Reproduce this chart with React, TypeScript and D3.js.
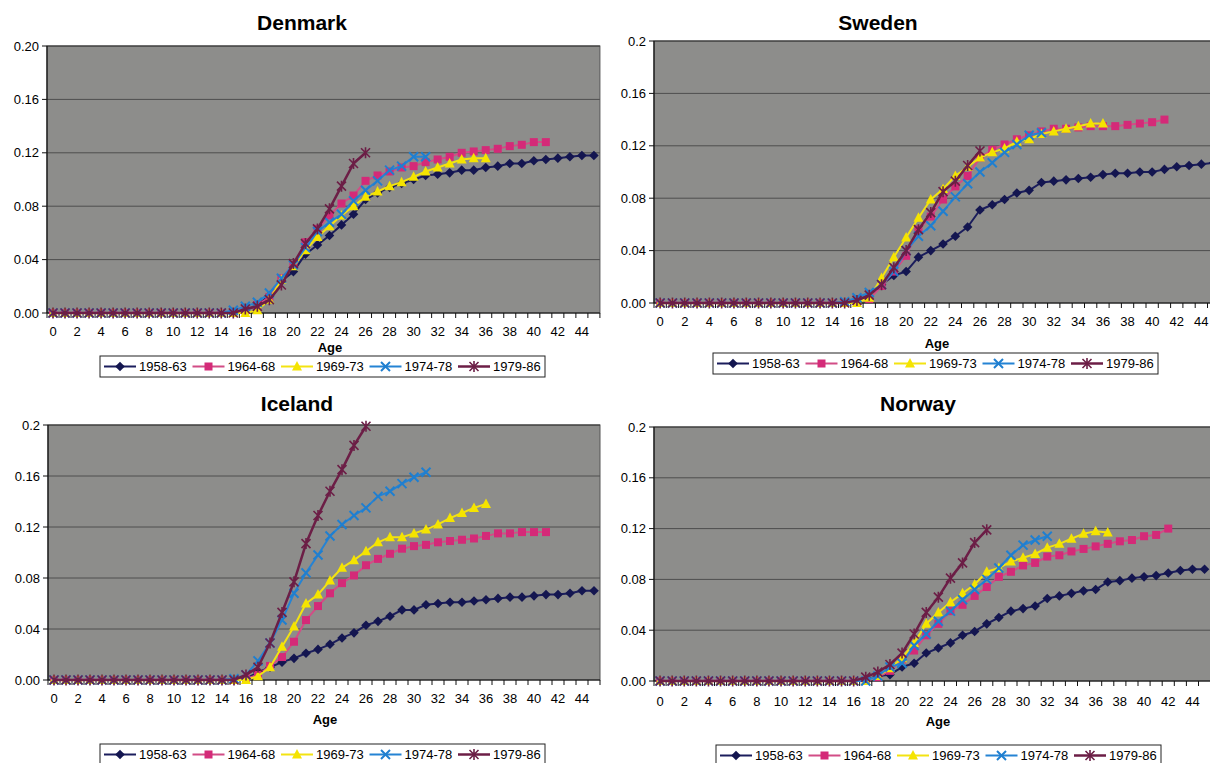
import React from "react";
import * as d3 from "d3";

// ages on the category axis
const ages = [0, 1, 2, 3, 4, 5, 6, 7, 8, 9, 10, 11, 12, 13, 14, 15, 16, 17, 18, 19, 20, 21, 22, 23,
  24, 25, 26, 27, 28, 29, 30, 31, 32, 33, 34, 35, 36, 37, 38, 39, 40, 41, 42, 43, 44, 45];
const xTickLabels = [0, 2, 4, 6, 8, 10, 12, 14, 16, 18, 20, 22, 24, 26, 28, 30, 32, 34, 36, 38, 40, 42, 44];
const yTicks = [0, 0.04, 0.08, 0.12, 0.16, 0.2];
const denmarkYLabels = ["0.00", "0.04", "0.08", "0.12", "0.16", "0.20"];
const otherYLabels = ["0.00", "0.04", "0.08", "0.12", "0.16", "0.2"];
const cohorts = ["1958-63", "1964-68", "1969-73", "1974-78", "1979-86"];

// Denmark
const denmark5863 = [0, 0, 0, 0, 0, 0, 0, 0, 0, 0, 0, 0, 0, 0, 0, 0,
  0.002, 0.006, 0.013, 0.024, 0.031, 0.044, 0.051, 0.058, 0.066, 0.074, 0.085, 0.090, 0.094, 0.097, 0.100,
  0.103, 0.104, 0.105, 0.107, 0.107, 0.109, 0.110, 0.112, 0.112, 0.114, 0.115, 0.116, 0.117, 0.118, 0.118];
const denmark6468 = [0, 0, 0, 0, 0, 0, 0, 0, 0, 0, 0, 0, 0, 0, 0, 0,
  0.002, 0.006, 0.012, 0.026, 0.036, 0.053, 0.063, 0.073, 0.082, 0.088, 0.099, 0.103, 0.106, 0.109, 0.110,
  0.113, 0.115, 0.117, 0.120, 0.121, 0.122, 0.123, 0.125, 0.126, 0.128, 0.128];
const denmark6973 = [0, 0, 0, 0, 0, 0, 0, 0, 0, 0, 0, 0, 0, 0, 0, 0,
  0.000, 0.002, 0.010, 0.025, 0.035, 0.047, 0.057, 0.065, 0.073, 0.080, 0.087, 0.091, 0.095, 0.098, 0.102,
  0.106, 0.109, 0.112, 0.115, 0.116, 0.116];
const denmark7478 = [0, 0, 0, 0, 0, 0, 0, 0, 0, 0, 0, 0, 0, 0, 0,
  0.002, 0.005, 0.008, 0.015, 0.026, 0.036, 0.049, 0.061, 0.068, 0.074, 0.084, 0.092, 0.099, 0.107, 0.110,
  0.117, 0.117];
const denmark7986 = [0, 0, 0, 0, 0, 0, 0, 0, 0, 0, 0, 0, 0, 0, 0, 0,
  0.003, 0.005, 0.010, 0.021, 0.037, 0.052, 0.063, 0.078, 0.095, 0.112, 0.120];

// Sweden
const sweden5863 = [0, 0, 0, 0, 0, 0, 0, 0, 0, 0, 0, 0, 0, 0, 0, 0,
  0.001, 0.005, 0.014, 0.021, 0.024, 0.035, 0.040, 0.045, 0.051, 0.058, 0.071, 0.075, 0.079, 0.084, 0.086,
  0.092, 0.093, 0.094, 0.095, 0.096, 0.098, 0.099, 0.099, 0.100, 0.100, 0.102, 0.104, 0.105, 0.106, 0.107];
const sweden6468 = [0, 0, 0, 0, 0, 0, 0, 0, 0, 0, 0, 0, 0, 0, 0, 0,
  0.001, 0.003, 0.013, 0.024, 0.036, 0.056, 0.066, 0.079, 0.089, 0.097, 0.111, 0.117, 0.121, 0.125, 0.128,
  0.131, 0.133, 0.133, 0.134, 0.135, 0.135, 0.135, 0.136, 0.137, 0.138, 0.140];
const sweden6973 = [0, 0, 0, 0, 0, 0, 0, 0, 0, 0, 0, 0, 0, 0, 0, 0,
  0.000, 0.004, 0.019, 0.035, 0.050, 0.065, 0.079, 0.087, 0.097, 0.104, 0.111, 0.115, 0.118, 0.123, 0.125,
  0.129, 0.131, 0.133, 0.135, 0.137, 0.137];
const sweden7478 = [0, 0, 0, 0, 0, 0, 0, 0, 0, 0, 0, 0, 0, 0, 0,
  0.001, 0.004, 0.008, 0.014, 0.024, 0.040, 0.051, 0.059, 0.070, 0.081, 0.091, 0.100, 0.107, 0.115, 0.121,
  0.128, 0.130];
const sweden7986 = [0, 0, 0, 0, 0, 0, 0, 0, 0, 0, 0, 0, 0, 0, 0, 0,
  0.002, 0.006, 0.014, 0.027, 0.040, 0.056, 0.069, 0.085, 0.093, 0.105, 0.116];

// Iceland
const iceland5863 = [0, 0, 0, 0, 0, 0, 0, 0, 0, 0, 0, 0, 0, 0, 0, 0,
  0.001, 0.006, 0.010, 0.014, 0.017, 0.021, 0.024, 0.028, 0.033, 0.037, 0.043, 0.046, 0.050, 0.055, 0.055,
  0.059, 0.060, 0.061, 0.061, 0.062, 0.063, 0.064, 0.065, 0.065, 0.066, 0.067, 0.067, 0.068, 0.070, 0.070];
const iceland6468 = [0, 0, 0, 0, 0, 0, 0, 0, 0, 0, 0, 0, 0, 0, 0, 0,
  0.001, 0.004, 0.011, 0.018, 0.030, 0.047, 0.058, 0.068, 0.076, 0.082, 0.090, 0.095, 0.099, 0.103, 0.105,
  0.106, 0.108, 0.109, 0.110, 0.111, 0.113, 0.115, 0.115, 0.116, 0.116, 0.116];
const iceland6973 = [0, 0, 0, 0, 0, 0, 0, 0, 0, 0, 0, 0, 0, 0, 0, 0,
  0.000, 0.003, 0.010, 0.026, 0.042, 0.060, 0.067, 0.078, 0.088, 0.094, 0.101, 0.108, 0.112, 0.112, 0.115,
  0.118, 0.122, 0.127, 0.131, 0.135, 0.138];
const iceland7478 = [0, 0, 0, 0, 0, 0, 0, 0, 0, 0, 0, 0, 0, 0, 0,
  0.001, 0.004, 0.015, 0.029, 0.047, 0.068, 0.084, 0.098, 0.113, 0.122, 0.129, 0.135, 0.144, 0.148, 0.154,
  0.159, 0.163];
const iceland7986 = [0, 0, 0, 0, 0, 0, 0, 0, 0, 0, 0, 0, 0, 0, 0, 0,
  0.004, 0.010, 0.029, 0.053, 0.077, 0.107, 0.129, 0.148, 0.165, 0.184, 0.199];

// Norway
const norway5863 = [0, 0, 0, 0, 0, 0, 0, 0, 0, 0, 0, 0, 0, 0, 0, 0, 0, 0.001,
  0.004, 0.005, 0.011, 0.014, 0.022, 0.026, 0.030, 0.036, 0.039, 0.045, 0.050, 0.055, 0.057, 0.059,
  0.065, 0.067, 0.069, 0.071, 0.072, 0.078, 0.079, 0.081, 0.082, 0.083, 0.085, 0.087, 0.088, 0.088];
const norway6468 = [0, 0, 0, 0, 0, 0, 0, 0, 0, 0, 0, 0, 0, 0, 0, 0, 0, 0,
  0.003, 0.008, 0.017, 0.024, 0.036, 0.045, 0.055, 0.060, 0.067, 0.074, 0.082, 0.086, 0.091, 0.093,
  0.098, 0.099, 0.102, 0.104, 0.106, 0.108, 0.110, 0.111, 0.114, 0.115, 0.120];
const norway6973 = [0, 0, 0, 0, 0, 0, 0, 0, 0, 0, 0, 0, 0, 0, 0, 0, 0, 0,
  0.004, 0.010, 0.018, 0.030, 0.045, 0.054, 0.062, 0.069, 0.076, 0.086, 0.089, 0.094, 0.097, 0.100,
  0.105, 0.108, 0.112, 0.116, 0.118, 0.117];
const norway7478 = [0, 0, 0, 0, 0, 0, 0, 0, 0, 0, 0, 0, 0, 0, 0, 0, 0, 0,
  0.004, 0.011, 0.014, 0.028, 0.037, 0.047, 0.055, 0.064, 0.072, 0.080, 0.089, 0.099, 0.107, 0.111, 0.114];
const norway7986 = [0, 0, 0, 0, 0, 0, 0, 0, 0, 0, 0, 0, 0, 0, 0, 0, 0,
  0.003, 0.007, 0.013, 0.022, 0.037, 0.054, 0.066, 0.081, 0.093, 0.109, 0.119];

const seriesStyle = [
  { line: "#1b1d5c", fill: "#141650", marker: "diamond", width: 2 },
  { line: "#d24d86", fill: "#d42a78", marker: "square", width: 2 },
  { line: "#f3e312", fill: "#f5e400", marker: "triangle", width: 2 },
  { line: "#2583d4", fill: "#1f7fd0", marker: "x", width: 2 },
  { line: "#6c1e46", fill: "#6c1e46", marker: "star", width: 2.5 },
];

const panels = [
  { title: "Denmark", data: [denmark5863, denmark6468, denmark6973, denmark7478, denmark7986], yLabels: denmarkYLabels,
    left: 47, step: 12.02, top: 46, bottom: 313, titleX: 302, titleY: 30, labelY: 336, ageX: 330, ageY: 352, legX: 100, legY: 356 },
  { title: "Sweden", data: [sweden5863, sweden6468, sweden6973, sweden7478, sweden7986], yLabels: otherYLabels,
    left: 654, step: 12.3, top: 41, bottom: 303, titleX: 878, titleY: 30, labelY: 326, ageX: 937, ageY: 348, legX: 713, legY: 353 },
  { title: "Iceland", data: [iceland5863, iceland6468, iceland6973, iceland7478, iceland7986], yLabels: otherYLabels,
    left: 48, step: 12.0, top: 425, bottom: 680, titleX: 297, titleY: 411, labelY: 703, ageX: 325, ageY: 724, legX: 100, legY: 744 },
  { title: "Norway", data: [norway5863, norway6468, norway6973, norway7478, norway7986], yLabels: otherYLabels,
    left: 654, step: 12.1, top: 427, bottom: 681, titleX: 918, titleY: 411, labelY: 706, ageX: 938, ageY: 726, legX: 716, legY: 745 },
];

const FONT = "'Liberation Sans', Arial, Helvetica, sans-serif";

function Marker({ kind, x, y, color }) {
  if (kind === "diamond") {
    return <path d={`M${x},${y - 4.8}L${x + 4.8},${y}L${x},${y + 4.8}L${x - 4.8},${y}Z`} fill={color} />;
  }
  if (kind === "square") {
    return <rect x={x - 4} y={y - 4} width={8} height={8} fill={color} />;
  }
  if (kind === "triangle") {
    return <path d={`M${x},${y - 5.5}L${x + 5},${y + 4}L${x - 5},${y + 4}Z`} fill={color} />;
  }
  if (kind === "x") {
    return <path d={`M${x - 4.5},${y - 4.5}L${x + 4.5},${y + 4.5}M${x - 4.5},${y + 4.5}L${x + 4.5},${y - 4.5}`}
      stroke={color} strokeWidth={2} fill="none" />;
  }
  return <path d={`M${x - 4.5},${y - 4.5}L${x + 4.5},${y + 4.5}M${x - 4.5},${y + 4.5}L${x + 4.5},${y - 4.5}M${x},${y - 5.5}L${x},${y + 5.5}`}
    stroke={color} strokeWidth={1.6} fill="none" />;
}

function Panel({ p }) {
  const right = p.left + p.step * ages.length;
  const x = d3.scaleBand().domain(ages.map(String)).range([p.left, right]);
  const cx = (a) => x(String(a)) + x.bandwidth() / 2;
  const y = d3.scaleLinear().domain([0, 0.2]).range([p.bottom, p.top]);
  const boundaries = ages.map((a) => x(String(a))).concat([right]);

  return (
    <g fontFamily={FONT}>
      <text x={p.titleX} y={p.titleY} textAnchor="middle" fontSize={21} fontWeight="bold">{p.title}</text>
      <rect x={p.left} y={p.top} width={right - p.left} height={p.bottom - p.top} fill="#8d8d8b" stroke="#555" strokeWidth={1} />
      {yTicks.slice(1, 5).map((t) => (
        <line key={t} x1={p.left} x2={right} y1={y(t)} y2={y(t)} stroke="#4e4e4e" strokeWidth={1} />
      ))}
      <line x1={p.left} x2={right} y1={p.top} y2={p.top} stroke="#333" strokeWidth={1.2} />
      <line x1={p.left} x2={p.left} y1={p.top} y2={p.bottom} stroke="#111" strokeWidth={1.2} />
      <line x1={p.left} x2={right} y1={p.bottom} y2={p.bottom} stroke="#111" strokeWidth={1.2} />
      {yTicks.map((t, i) => (
        <g key={t}>
          <line x1={p.left - 5} x2={p.left} y1={y(t)} y2={y(t)} stroke="#111" />
          <text x={p.left - 8} y={y(t) + 4.5} textAnchor="end" fontSize={13}>{p.yLabels[i]}</text>
        </g>
      ))}
      {boundaries.map((b, i) => (
        <line key={i} x1={b} x2={b} y1={p.bottom} y2={p.bottom + 5} stroke="#111" />
      ))}
      {xTickLabels.map((a) => (
        <text key={a} x={cx(a)} y={p.labelY} textAnchor="middle" fontSize={13}>{a}</text>
      ))}
      <text x={p.ageX} y={p.ageY} textAnchor="middle" fontSize={13} fontWeight="bold">Age</text>
      {p.data.map((vals, si) => {
        const st = seriesStyle[si];
        const line = d3.line().x((_, i) => cx(ages[i])).y((v) => y(v));
        return (
          <g key={si}>
            <path d={line(vals)} fill="none" stroke={st.line} strokeWidth={st.width} strokeLinejoin="round" />
            {vals.map((v, i) => (
              <Marker key={i} kind={st.marker} x={cx(ages[i])} y={y(v)} color={st.fill} />
            ))}
          </g>
        );
      })}
      <rect x={p.legX} y={p.legY} width={445} height={21} fill="white" stroke="#222" strokeWidth={1} />
      {cohorts.map((c, i) => {
        const st = seriesStyle[i];
        const lx = p.legX + 4 + i * 88.5;
        const ly = p.legY + 10.5;
        return (
          <g key={c}>
            <line x1={lx} x2={lx + 32} y1={ly} y2={ly} stroke={st.line} strokeWidth={st.width} />
            <Marker kind={st.marker} x={lx + 16} y={ly} color={st.fill} />
            <text x={lx + 35} y={ly + 4.5} fontSize={13}>{c}</text>
          </g>
        );
      })}
    </g>
  );
}

export default function App() {
  return (
    <svg width={1210} height={763} style={{ position: "absolute", left: 0, top: 0, background: "white" }}>
      <rect width={1210} height={763} fill="white" />
      {panels.map((p) => <Panel key={p.title} p={p} />)}
    </svg>
  );
}
